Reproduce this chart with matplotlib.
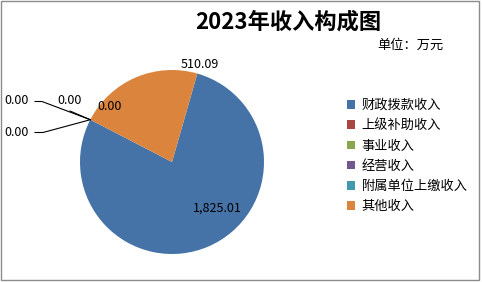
import numpy as np
import matplotlib
matplotlib.use('Agg')
import matplotlib.pyplot as plt
from matplotlib.patches import Rectangle
from matplotlib.lines import Line2D

plt.rcParams['font.family'] = ['Noto Sans CJK SC', 'DejaVu Sans']

# Data
categories = ['财政拨款收入', '上级补助收入', '事业收入', '经营收入', '附属单位上缴收入', '其他收入']
values = [1825.01, 0.00, 0.00, 0.00, 0.00, 510.09]
value_labels = ['1,825.01', '0.00', '0.00', '0.00', '0.00', '510.09']
colors = ['#4572A7', '#AA4643', '#89A54E', '#71588F', '#4198AF', '#DB843D']

W, H = 482, 282


def px(x, y):
    """pixel (from top-left) -> figure fraction"""
    return x / W, 1 - y / H


fig = plt.figure(figsize=(W / 100, H / 100), dpi=100)
fig.patch.set_facecolor('white')

# outer chart border
fig.add_artist(Rectangle(px(0.5, 279.5), 478 / W, 279 / H, transform=fig.transFigure,
                         fill=False, edgecolor='#8c8c8c', linewidth=1.0))

# pie axes: centre ~ (172,162), radius ~92 px
cx, cy, r = 172, 162, 92
ax = fig.add_axes([(cx - r) / W, (H - cy - r) / H, 2 * r / W, 2 * r / H])
wedges, _ = ax.pie(values, colors=colors, startangle=74, counterclock=False,
                   radius=1.0, wedgeprops=dict(linewidth=0))
ax.set_xlim(-1, 1)
ax.set_ylim(-1, 1)
ax.set_aspect('equal')
ax.axis('off')

# point where the zero-size slices sit (start of 其他收入 wedge)
theta = np.deg2rad(wedges[5].theta2)
zx, zy = cx + r * np.cos(theta), cy - r * np.sin(theta)

lab_kw = dict(fontsize=9, color='black', ha='center', va='center')
fig.text(*px(217, 208), value_labels[0], **lab_kw)
fig.text(*px(200, 64), value_labels[5], **lab_kw)
fig.text(*px(110, 107), value_labels[1], **lab_kw)
fig.text(*px(70, 101), value_labels[2], **lab_kw)
fig.text(*px(17, 101), value_labels[3], **lab_kw)
fig.text(*px(17, 133), value_labels[4], **lab_kw)

# leader lines for zero slices
for pts in ([(35, 101.5), (42, 101.5), (zx, zy)],
            [(35, 132.5), (43, 132.5), (zx, zy)],
            [(70, 111), (zx, zy)]):
    xs, ys = zip(*[px(*p) for p in pts])
    fig.add_artist(Line2D(xs, ys, transform=fig.transFigure, color='black', linewidth=0.8))

# titles
fig.text(*px(288, 22), '2023年收入构成图', fontsize=16, fontweight='bold',
         ha='center', va='center')
fig.text(*px(410, 45), '单位：万元', fontsize=9.5, ha='center', va='center')

# legend
fig.legend(wedges, categories, loc='upper left', bbox_to_anchor=px(347, 99),
           frameon=False, fontsize=9.5, handlelength=0.6, handleheight=0.6,
           handletextpad=0.5, labelspacing=0.55, borderpad=0, borderaxespad=0)

fig.savefig('out.png', dpi=100, facecolor='white')
